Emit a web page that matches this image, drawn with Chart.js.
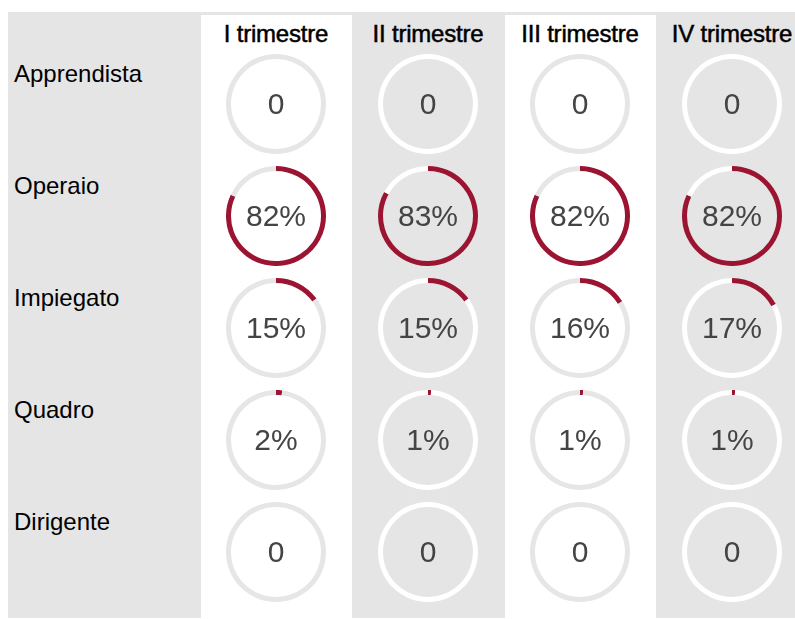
<!DOCTYPE html>
<html>
<head>
<meta charset="utf-8">
<script src="https://cdn.jsdelivr.net/npm/chart.js@4/dist/chart.umd.min.js"></script>
<style>
  body { margin: 0; background: #fff; width: 795px; height: 619px; overflow: hidden; position: relative; font-family: "Liberation Sans", Arial, sans-serif; }
  #panel { position: absolute; left: 8px; top: 12px; width: 787px; height: 606px; background: #e5e5e5; }
  .whitecol { position: absolute; top: 15px; width: 151px; height: 603px; background: #fff; }
  .header { position: absolute; top: 20px; width: 152px; text-align: center; font-size: 24px; color: #000; letter-spacing: -0.2px; line-height: 28px; -webkit-text-stroke: 0.5px #000; }
  .rowlabel { position: absolute; left: 14px; font-size: 24px; color: #000; line-height: 28px; }
  .cell { position: absolute; width: 100px; height: 100px; }
  .cell canvas { position: absolute; left: 0; top: 0; }
  .value { position: absolute; left: 0; top: 0; width: 100px; height: 100px; line-height: 100px; text-align: center; font-size: 30px; color: #444; }
</style>
</head>
<body>
<div id="panel"></div>
<div class="whitecol" style="left:201px"></div>
<div class="whitecol" style="left:505px"></div>
<div id="grid"></div>
<script>
const quarters = ["I trimestre", "II trimestre", "III trimestre", "IV trimestre"];
const roles = ["Apprendista", "Operaio", "Impiegato", "Quadro", "Dirigente"];
const apprendista = [0, 0, 0, 0];
const operaio = [82, 83, 82, 82];
const impiegato = [15, 15, 16, 17];
const quadro = [2, 1, 1, 1];
const dirigente = [0, 0, 0, 0];
const values = [apprendista, operaio, impiegato, quadro, dirigente];

const ringColor = "#9b1532";
const trackLight = "#e6e6e6";
const trackWhite = "#ffffff";

const grid = document.getElementById("grid");

function colCenter(c) { return 276 + 152 * c; }
function rowCenter(r) { return 104 + 112 * r; }

quarters.forEach((q, c) => {
  let h = document.createElement("div");
  h.className = "header";
  h.style.left = (colCenter(c) - 76) + "px";
  h.innerText = q;
  grid.appendChild(h);
});

roles.forEach((role, r) => {
  let lab = document.createElement("div");
  lab.className = "rowlabel";
  lab.style.top = (rowCenter(r) - 30 - 14) + "px";
  lab.innerText = role;
  grid.appendChild(lab);

  values[r].forEach((v, c) => {
    let cell = document.createElement("div");
    cell.className = "cell";
    cell.style.left = (colCenter(c) - 50) + "px";
    cell.style.top = (rowCenter(r) - 50) + "px";
    let canvas = document.createElement("canvas");
    canvas.width = 100;
    canvas.height = 100;
    cell.appendChild(canvas);
    let txt = document.createElement("div");
    txt.className = "value";
    txt.innerText = v === 0 ? "0" : v + "%";
    cell.appendChild(txt);
    grid.appendChild(cell);

    let track = c % 2 === 0 ? trackLight : trackWhite;
    new Chart(canvas.getContext("2d"), {
      type: "doughnut",
      data: {
        labels: [role, ""],
        datasets: [{
          data: [v, 100 - v],
          backgroundColor: [ringColor, track],
          borderWidth: 0,
        }],
      },
      options: {
        responsive: false,
        animation: false,
        cutout: "90%",
        plugins: { legend: { display: false }, tooltip: { enabled: false } },
        events: [],
      },
    });
  });
});
</script>
</body>
</html>
